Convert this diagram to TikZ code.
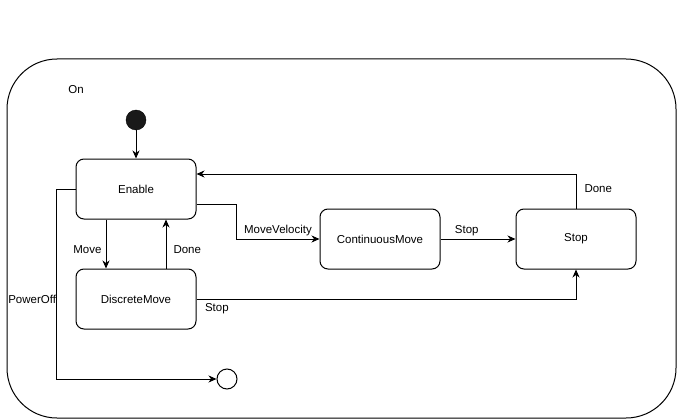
\documentclass[tikz,border=0pt]{standalone}
\usepackage{fontspec}
\setmainfont{Liberation Sans}
\usetikzlibrary{positioning,
	calc,
	arrows.meta}
\tikzstyle{state}=[draw, rounded corners=8pt, minimum width=120pt, minimum height=60pt, inner sep=0, line width=1pt]
\tikzstyle{tr}=[draw, -{Stealth[length=8pt, width=7pt, inset=2.5pt]}, line width=1pt]
\tikzstyle{lbl}=[inner sep=0]

\begin{document}
\begin{tikzpicture}[x=1pt, y=-1pt, font=\fontsize{11.5}{13}\selectfont]
        \useasboundingbox (0,0) rectangle (683,420);
        \node[draw, rounded corners=50pt, minimum width=669pt, minimum height=359pt, line width=1pt] (on) at (341.5,238.5) {};
        \node (onlbl) at (76,90) {On};
        \node[circle, fill=black!90, draw, minimum size=20pt, inner sep=0] (init) at (136,120) {};
        \node[state] (enable) at (136,189) {Enable};
        \node[state] (discrete) at (136,299) {DiscreteMove};
        \node[state] (continuous) at (380,239) {ContinuousMove};
        \node[state] (stop) at (576,239) {Stop};
        \node[circle, draw, minimum size=20pt, inner sep=0, line width=1pt] (final) at (227,379) {};
        % transitions
        \draw[tr] (init) -- (enable);
        \draw[tr] ([xshift=-30pt]enable.south) -- node[lbl, left, pos=0.62, xshift=-4pt] {Move} ([xshift=-30pt]discrete.north);
        \draw[tr] ([xshift=30pt]discrete.north) -- node[lbl, right, pos=0.38, xshift=7pt] {Done} ([xshift=30pt]enable.south);
        \draw[tr] ([yshift=-15pt]enable.east) -- ++(40,0) |- node[lbl, above, pos=0.75, yshift=3pt] {MoveVelocity} (continuous.west);
        \draw[tr] (continuous.east) -- node[lbl, above, pos=0.35, yshift=3pt] {Stop} (stop.west);
        \draw[tr] (stop.north) |- node[lbl, right, pos=0.29, xshift=8pt] {Done} ([yshift=15pt]enable.east);
        \draw[tr] (discrete.east) -| node[lbl, at start, anchor=north west, xshift=8pt, yshift=-4pt] {Stop} (stop.south);
        \draw[tr] (enable.west) -- ++(-19,0) |- node[lbl, left, pos=0.29] {PowerOff} (final);
    \end{tikzpicture}
\end{document}
